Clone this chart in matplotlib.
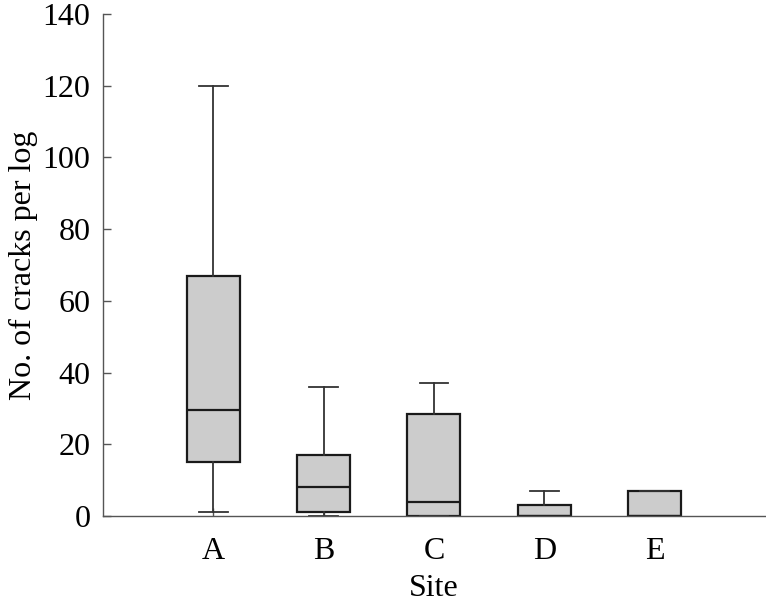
import numpy as np
import matplotlib.pyplot as plt

plt.rcParams['font.family'] = ['Liberation Serif', 'DejaVu Serif']

sites = ['A', 'B', 'C', 'D', 'E']
whislo = [1, 0, 0, 0, 0]
q1 = [15, 1, 0, 0, 0]
med = [29.5, 8, 4, 0, 0]
q3 = [67, 17, 28.5, 3, 7]
whishi = [120, 36, 37, 7, 7]

stats = []
for i in range(len(sites)):
    stats.append({'label': sites[i], 'whislo': whislo[i], 'q1': q1[i],
                  'med': med[i], 'q3': q3[i], 'whishi': whishi[i], 'fliers': []})

fig = plt.figure(figsize=(7.66, 6.04), dpi=100)
ax = fig.add_axes([0.1345, 0.1457, 0.864, 0.831])

ax.bxp(stats, positions=[1, 2, 3, 4, 5], widths=0.48, patch_artist=True,
       showfliers=False,
       boxprops=dict(facecolor='#cccccc', edgecolor='#1a1a1a', linewidth=1.6),
       medianprops=dict(color='#1a1a1a', linewidth=1.6),
       whiskerprops=dict(color='#333333', linewidth=1.3),
       capprops=dict(color='#333333', linewidth=1.3),
       capwidths=0.26)

ax.set_xlim(0, 6)
ax.set_ylim(0, 140)
ax.set_yticks(np.arange(0, 141, 20))
ax.set_xticks([1, 2, 3, 4, 5])
ax.set_xticklabels(sites)

for s in ['top', 'right']:
    ax.spines[s].set_visible(False)
for s in ['left', 'bottom']:
    ax.spines[s].set_color('#555555')
    ax.spines[s].set_linewidth(1.0)

ax.tick_params(direction='in', length=6, width=1, color='#555555',
               labelsize=23)
ax.tick_params(axis='y', pad=9)
ax.tick_params(axis='x', pad=15)
ax.set_xlabel('Site', fontsize=23, labelpad=6)
ax.set_ylabel('No. of cracks per log', fontsize=23, labelpad=3)

fig.savefig('out.png')
